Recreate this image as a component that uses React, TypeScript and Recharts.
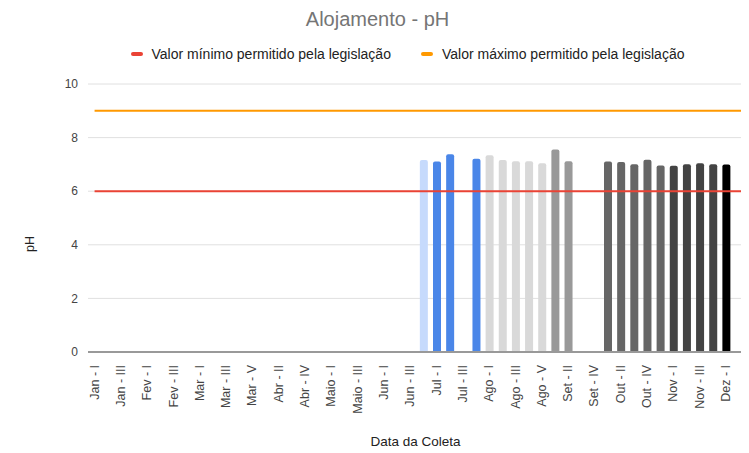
import { ComposedChart, Bar, Line, Cell, XAxis, YAxis, CartesianGrid, Legend } from "recharts";

const categories = [
  "Jan - I", "Jan - II", "Jan - III", "Jan - IV",
  "Fev - I", "Fev - II", "Fev - III", "Fev - IV",
  "Mar - I", "Mar - II", "Mar - III", "Mar - IV", "Mar - V",
  "Abr - I", "Abr - II", "Abr - III", "Abr - IV", "Abr - V",
  "Maio - I", "Maio - II", "Maio - III", "Maio - IV",
  "Jun - I", "Jun - II", "Jun - III", "Jun - IV",
  "Jul - I", "Jul - II", "Jul - III", "Jul - IV",
  "Ago - I", "Ago - II", "Ago - III", "Ago - IV", "Ago - V",
  "Set - I", "Set - II", "Set - III", "Set - IV",
  "Out - I", "Out - II", "Out - III", "Out - IV", "Out - V",
  "Nov - I", "Nov - II", "Nov - III", "Nov - IV",
  "Dez - I", "Dez - II", "Dez - III", "Dez - IV",
];

const phValues: (number | null)[] = [
  null, null, null, null,
  null, null, null, null,
  null, null, null, null, null,
  null, null, null, null, null,
  null, null, null, null,
  null, null, null, 7.16,
  7.11, 7.38, null, 7.21,
  7.34, 7.16, 7.12, 7.12, 7.04,
  7.56, 7.12, null, null,
  7.11, 7.09, 7.01, 7.17, 6.96,
  6.95, 7.01, 7.04, 7.01,
  7.0, null, null, null,
];

const minPermitido = 6;
const maxPermitido = 9;
const yTicks = [0, 2, 4, 6, 8, 10];
const legendOrder = ["min", "max"];

const monthColors: Record<string, string> = {
  Jun: "#c6dafc",
  Jul: "#4a86e8",
  Ago: "#d9d9d9",
  Set: "#999999",
  Out: "#666666",
  Nov: "#434343",
  Dez: "#000000",
};

const data = categories.map((name, i) => ({
  name,
  ph: phValues[i],
  min: minPermitido,
  max: maxPermitido,
}));

const font = "Arial, 'Liberation Sans', sans-serif";

function RotatedTick(props: any) {
  const { x, y, payload } = props;
  return (
    <text
      x={0}
      y={0}
      transform={`translate(${x},${y + 5}) rotate(-90)`}
      textAnchor="end"
      dominantBaseline="central"
      fontSize={12.5}
      fill="#444"
      fontFamily={font}
    >
      {payload.value}
    </text>
  );
}

function LegendContent(props: any) {
  const items = (props.payload || [])
    .filter((p: any) => legendOrder.includes(p.dataKey))
    .sort((a: any, b: any) => legendOrder.indexOf(a.dataKey) - legendOrder.indexOf(b.dataKey));
  return (
    <div style={{ display: "flex", justifyContent: "center", gap: 30, paddingTop: 8, fontFamily: font, fontSize: 14, color: "#222" }}>
      {items.map((p: any) => (
        <div key={p.value} style={{ display: "flex", alignItems: "center", gap: 9 }}>
          <span style={{ width: 12, height: 4, borderRadius: 2, background: p.color, display: "inline-block" }} />
          <span>{p.value}</span>
        </div>
      ))}
    </div>
  );
}

export default function App() {
  return (
    <div style={{ position: "relative", width: 741, height: 445, overflow: "hidden", fontFamily: font }}>
      <div style={{ position: "absolute", top: 0, left: 0, width: 741, textAlign: "center", fontSize: 20, lineHeight: "22px", color: "#757575", zIndex: 1 }}>
        <span style={{ marginLeft: -2 }}>Alojamento - pH</span>
      </div>
      <div style={{ position: "absolute", left: 14, top: 229, transform: "rotate(-90deg)", fontSize: 12.5, color: "#222", zIndex: 1 }}>
        pH
      </div>
      <div style={{ position: "absolute", top: 426, left: 0, width: 815, textAlign: "center", fontSize: 13.5, color: "#222", zIndex: 1 }}>
        Data da Coleta
      </div>
      <ComposedChart width={770} height={445} data={data} margin={{ top: 30, right: 6, left: 35, bottom: 0 }} barCategoryGap="38%">
        <CartesianGrid vertical={false} stroke="#e0e0e0" />
        <Legend verticalAlign="top" height={46} content={<LegendContent />} />
        <XAxis
          dataKey="name"
          interval={1}
          tickLine={false}
          height={101}
          axisLine={{ stroke: "#999", strokeWidth: 2 }}
          tick={<RotatedTick />}
        />
        <YAxis
          width={45}
          domain={[0, 10]}
          ticks={yTicks}
          axisLine={false}
          tickLine={false}
          tickMargin={4}
          tick={{ fontSize: 12, fill: "#444", fontFamily: font }}
        />
        <Bar dataKey="ph" name="pH" barSize={8} radius={[2, 2, 0, 0]} isAnimationActive={false} legendType="none">
          {data.map((d) => (
            <Cell key={d.name} fill={monthColors[d.name.split(" - ")[0]] || "#4a86e8"} />
          ))}
        </Bar>
        <Line dataKey="min" name="Valor mínimo permitido pela legislação" stroke="#ea4335" strokeWidth={2} dot={false} activeDot={false} isAnimationActive={false} />
        <Line dataKey="max" name="Valor máximo permitido pela legislação" stroke="#ff9900" strokeWidth={2} dot={false} activeDot={false} isAnimationActive={false} />
      </ComposedChart>
    </div>
  );
}
